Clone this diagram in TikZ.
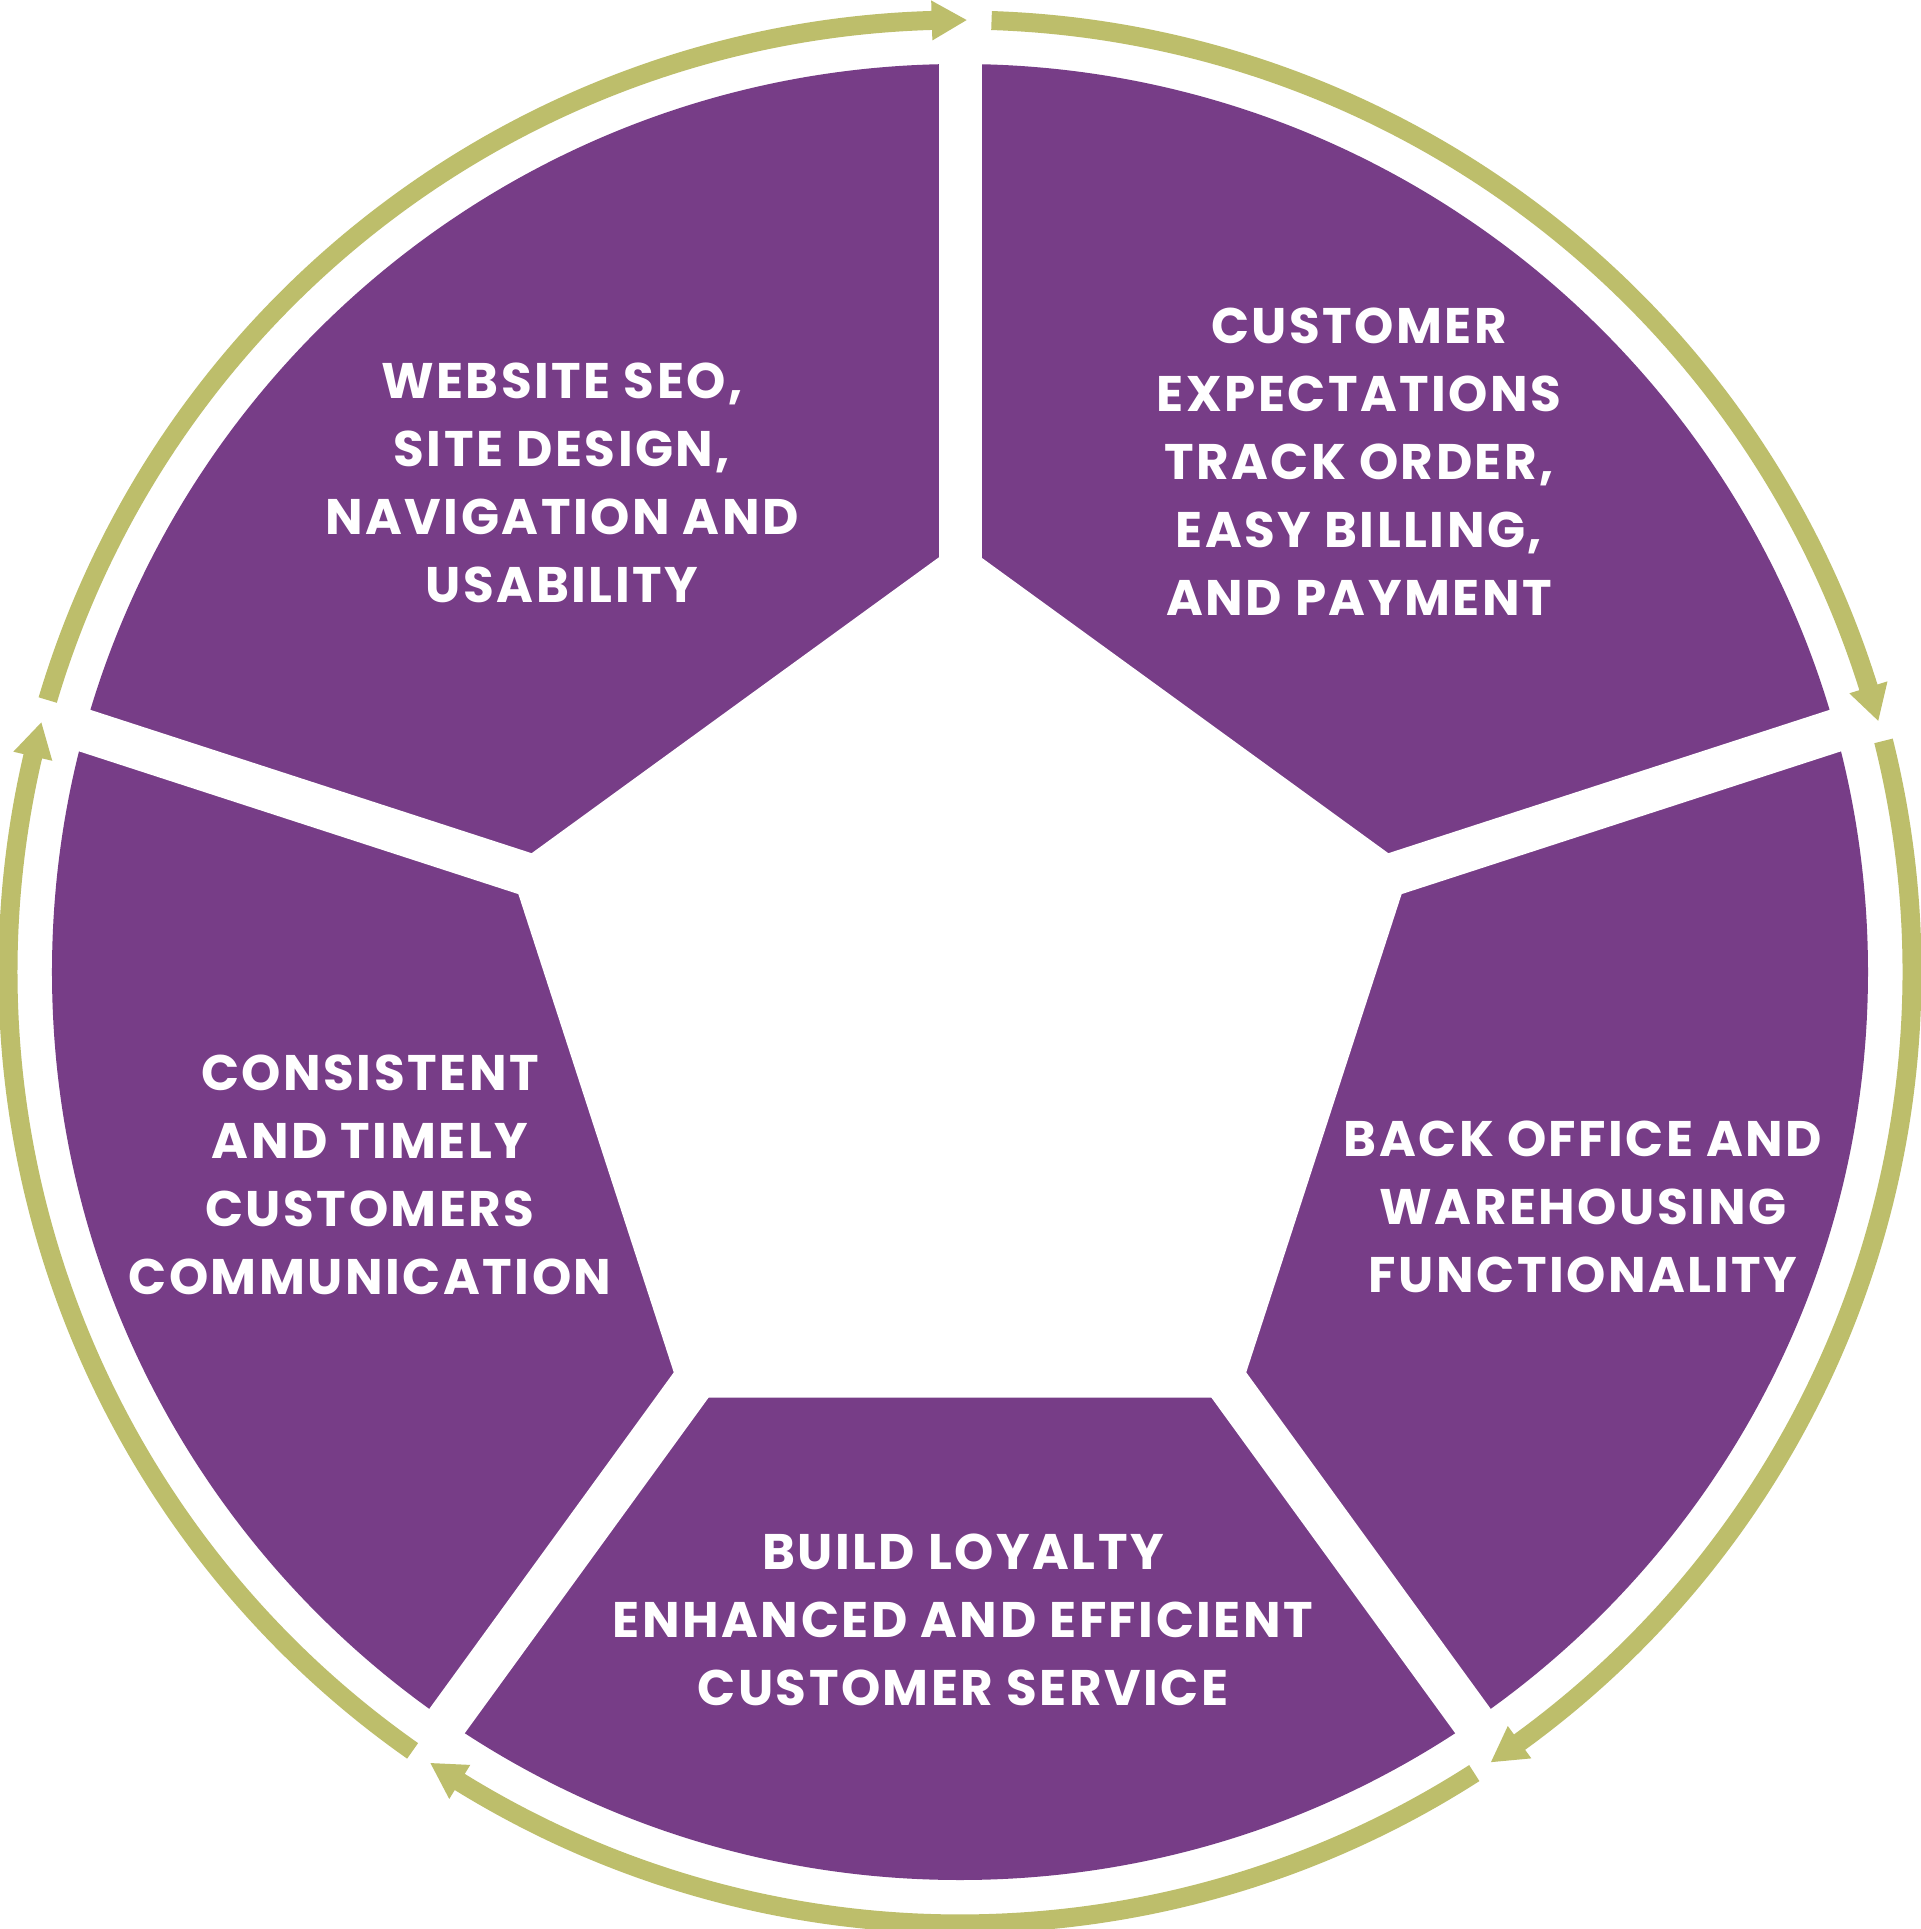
\documentclass[tikz,border=0pt]{standalone}
\usepackage{fontspec}
\setmainfont{Poppins}[LetterSpace=5]
\usetikzlibrary{calc}
\definecolor{segpurple}{RGB}{119,61,135}
\definecolor{ringgreen}{RGB}{189,190,107}
\begin{document}
\begin{tikzpicture}[x=1pt,y=1pt,
  seglabel/.style={text=white, align=center, font=\fontsize{50}{68}\selectfont\bfseries, inner sep=0pt},
  ringarc/.style={draw=ringgreen, line width=19pt},
  ringhead/.style={fill=ringgreen},
  gapline/.style={draw=white, line width=43pt}]
\useasboundingbox (-960,-957) rectangle (960,972);
\fill[white] (-960,-957) rectangle (960,972);
% purple disk
\fill[segpurple] (0,0) circle[radius=908pt];
% central pentagon
\coordinate (pc) at (0,-43);
\foreach \k in {0,...,4} { \coordinate (v\k) at ($(pc)+(90+72*\k:473pt)$); }
\fill[white] (v0) -- (v1) -- (v2) -- (v3) -- (v4) -- cycle;
% white gaps
\foreach \k in {0,...,4} { \draw[gapline] (pc) -- ($(pc)!2.05!(v\k)$); }
% ring arrows
\foreach \s/\t in {163.4/89.6, 88.1/15.3, 14.05/-56.1, -57.3/-123.8, 234.9/164.8} {
  \pgfmathsetmacro\b{\t+2.1}
  \pgfmathsetmacro\e{\b-0.4}
  \draw[ringarc] (\s:952pt) arc[start angle=\s, end angle=\e, radius=952pt];
  \fill[ringhead] (\t:952pt) -- (\b:972pt) -- (\b:932pt) -- cycle;
}
% labels
\node[seglabel] (t1) at (-398,489) {WEBSITE SEO,\\SITE DESIGN,\\NAVIGATION AND\\USABILITY};
\node[seglabel] (t2) at (399,510) {CUSTOMER\\EXPECTATIONS\\TRACK ORDER,\\EASY BILLING,\\AND PAYMENT};
\node[seglabel] (t3) at (623,-235) {BACK OFFICE AND\\WAREHOUSING\\FUNCTIONALITY};
\node[seglabel] (t4) at (3,-648) {BUILD LOYALTY\\ENHANCED AND EFFICIENT\\CUSTOMER SERVICE};
\node[seglabel] (t5) at (-590,-203) {CONSISTENT\\AND TIMELY\\CUSTOMERS\\COMMUNICATION};
\end{tikzpicture}
\end{document}
